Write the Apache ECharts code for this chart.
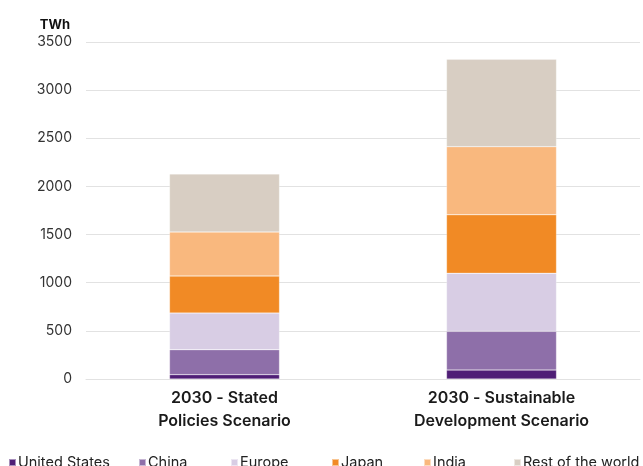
<!DOCTYPE html>
<html><head><meta charset="utf-8">
<script src="https://cdn.jsdelivr.net/npm/echarts@6/dist/echarts.min.js"></script>
<style>html,body{margin:0;padding:0;background:#fff}#c{width:643px;height:466px}</style>
</head><body><div id="c"></div>
<script>
const categories = ['2030 - Stated\nPolicies Scenario', '2030 - Sustainable\nDevelopment Scenario'];
const seriesNames = ['United States', 'China', 'Europe', 'Japan', 'India', 'Rest of the world'];
const unitedStates = [45, 93];
const china = [259, 402];
const europe = [381, 603];
const japan = [385, 608];
const india = [457, 707];
const restOfWorld = [602, 907];
const yTicks = [0, 500, 1000, 1500, 2000, 2500, 3000, 3500];

const values = [unitedStates, china, europe, japan, india, restOfWorld];
const colors = ['#4f1e76', '#8e6fa9', '#d8cde4', '#f18a25', '#f9b87e', '#d8cec3'];
const legendLeft = [3, 133, 225, 326, 418, 508];
const font = 'Inter, "Noto Sans", sans-serif';

const chart = echarts.init(document.getElementById('c'));
chart.setOption({
  animation: false,
  textStyle: {fontFamily: font},
  grid: {left: 86, right: 3, top: 42, bottom: 87},
  legend: seriesNames.map((n, i) => ({
    data: [n], left: legendLeft[i], top: 450, itemWidth: 7, itemHeight: 7, itemGap: 2,
    icon: 'rect', textStyle: {fontSize: 14.5, color: '#222', fontFamily: font, padding: [0,0,0,-3]}
  })),
  xAxis: {
    type: 'category', data: categories,
    axisLine: {show: true, lineStyle: {color: '#e2e2e2'}},
    axisTick: {show: false},
    axisLabel: {fontSize: 16, fontWeight: 600, color: '#1a1a1a', lineHeight: 23, margin: 8, fontFamily: font}
  },
  yAxis: {
    type: 'value', min: yTicks[0], max: yTicks[yTicks.length - 1], interval: 500,
    name: 'TWh', nameLocation: 'end', nameGap: 10,
    nameTextStyle: {fontWeight: 'bold', fontSize: 13, color: '#111', align: 'right', verticalAlign: 'bottom', padding: [0, 16, 0, 0]},
    axisLine: {show: false}, axisTick: {show: false},
    splitLine: {lineStyle: {color: '#e2e2e2'}},
    axisLabel: {fontSize: 14, color: '#333', margin: 14, fontFamily: font, formatter: v => String(v)}
  },
  series: seriesNames.map((n, i) => ({
    name: n, type: 'bar', stack: 'total', data: values[i], barWidth: 110,
    itemStyle: {color: colors[i], borderColor: 'rgba(255,255,255,0.5)', borderWidth: 0.5}
  }))
});
</script></body></html>
